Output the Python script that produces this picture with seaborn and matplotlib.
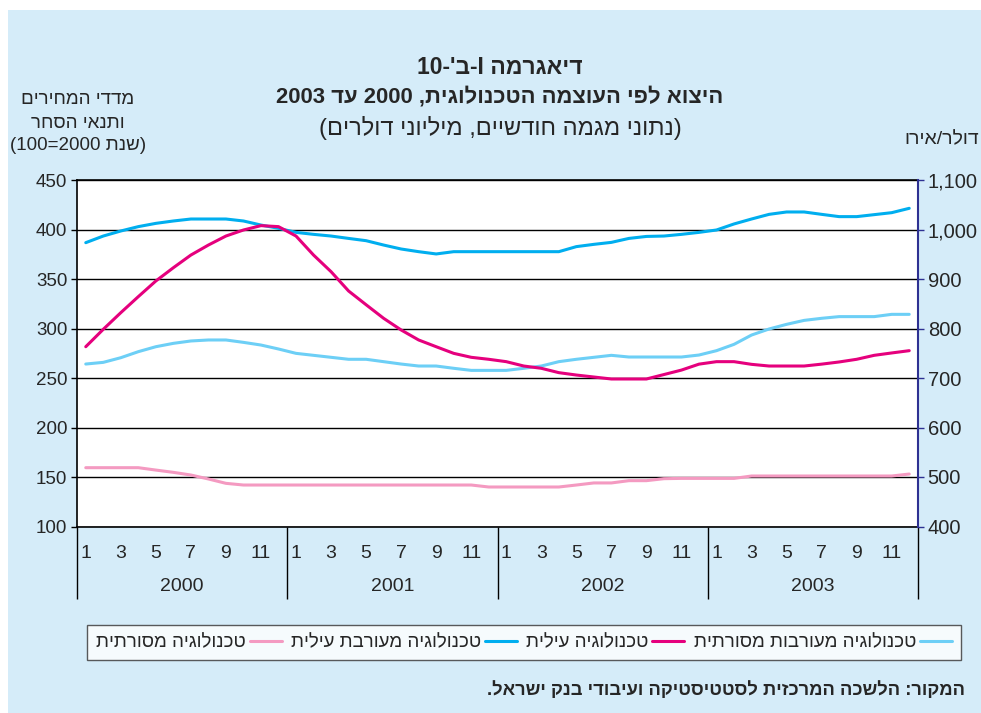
# -*- coding: utf-8 -*-
# Diagram I-b-10: exports by technology intensity, 2000-2003 (monthly trend data)
import re
import numpy as np
import pandas as pd
import seaborn as sns
import matplotlib.pyplot as plt
from matplotlib.patches import Rectangle
from matplotlib.ticker import FuncFormatter

# Data (left axis units)
years = ["2000", "2001", "2002", "2003"]
month_labels = ["1", "3", "5", "7", "9", "11"]

high_tech = [386.7, 393.4, 398.5, 402.9, 406.2, 408.6, 410.6, 410.6, 410.6, 408.6, 404.5, 401.2,
             397.1, 395.1, 393.4, 391.0, 388.7, 384.3, 380.3, 377.6, 375.3, 377.6, 377.6, 377.6,
             377.6, 377.6, 377.6, 377.6, 382.7, 385.0, 387.0, 391.0, 393.0, 393.4, 395.1, 397.1,
             399.5, 405.6, 410.6, 415.3, 417.7, 417.7, 415.3, 413.0, 413.0, 415.0, 417.0, 421.4]

magenta_series = [281.6, 299.2, 316.0, 332.2, 348.0, 361.4, 374.2, 384.3, 393.4, 399.5, 403.9, 402.9,
                  393.4, 374.2, 357.4, 337.9, 324.0, 310.3, 298.5, 288.4, 281.6, 274.9, 270.9, 268.9,
                  266.5, 262.1, 259.8, 255.4, 253.0, 251.0, 249.0, 249.0, 249.0, 253.5, 258.0, 264.0,
                  266.5, 266.5, 263.8, 262.1, 262.1, 262.1, 264.0, 266.2, 268.9, 272.9, 275.3, 277.6]

light_series = [264.1, 265.8, 270.5, 276.6, 281.6, 285.0, 287.4, 288.4, 288.4, 286.0, 283.3, 279.3,
                274.9, 272.9, 270.9, 268.9, 268.9, 266.5, 264.1, 262.1, 262.1, 259.8, 257.7, 257.7,
                257.7, 259.8, 262.1, 266.5, 268.9, 270.9, 272.9, 271.2, 271.2, 271.2, 271.2, 273.2,
                277.6, 284.0, 293.4, 299.5, 304.2, 308.2, 310.3, 312.0, 312.0, 312.0, 314.3, 314.3]

pink_series = [159.4, 159.4, 159.4, 159.4, 157.0, 154.7, 152.0, 148.0, 143.6, 141.9, 141.9, 141.9,
               141.9, 141.9, 141.9, 141.9, 141.9, 141.9, 141.9, 141.9, 141.9, 141.9, 141.9, 139.9,
               139.9, 139.9, 139.9, 139.9, 141.9, 144.0, 144.0, 146.3, 146.3, 148.3, 148.6, 148.6,
               148.6, 148.6, 151.0, 151.0, 151.0, 151.0, 151.0, 151.0, 151.0, 151.0, 151.0, 153.0]


def heb(s):
    # matplotlib has no bidi: reverse for display, keep numbers/latin runs in order
    r = s[::-1]
    r = re.sub(r"[0-9A-Za-z]+(?:[.,][0-9A-Za-z]+)*", lambda m: m.group(0)[::-1], r)
    return r.translate(str.maketrans("()", ")("))


BG = "#D5ECF9"
C_PINK = "#F49AC1"
C_CYAN = "#00AEEF"
C_MAGENTA = "#E5007D"
C_LIGHT = "#6DCFF6"
NAVY = "#2E3192"

sns.set_style("white")
plt.rcParams["font.family"] = ["Liberation Sans", "DejaVu Sans"]

fig = plt.figure(figsize=(9.81, 7.13), dpi=100, facecolor="white")
fig.patches.append(Rectangle((8 / 981, 0), 1 - 8 / 981, 1 - 10 / 713, transform=fig.transFigure,
                             facecolor=BG, edgecolor="none", zorder=-10))

ax = fig.add_axes([77 / 981, 1 - 526.5 / 713, 841 / 981, 346.5 / 713])
ax.set_facecolor("white")

months = np.arange(len(high_tech))
df = pd.DataFrame({"month": months, "pink": pink_series, "cyan": high_tech,
                   "magenta": magenta_series, "light": light_series})

labels = {
    "pink": heb("טכנולוגיה מסורתית"),
    "cyan": heb("טכנולוגיה מעורבת עילית"),
    "magenta": heb("טכנולוגיה עילית"),
    "light": heb("טכנולוגיה מעורבות מסורתית"),
}
colors = {"pink": C_PINK, "cyan": C_CYAN, "magenta": C_MAGENTA, "light": C_LIGHT}

for key in ["pink", "light", "cyan", "magenta"]:
    sns.lineplot(data=df, x="month", y=key, color=colors[key], lw=2.2, ax=ax, label=labels[key])

handles, labs = ax.get_legend_handles_labels()
ax.get_legend().remove()

# y axis (left)
ax.set_ylim(100, 450)
ax.set_yticks(np.arange(100, 451, 50))
ax.yaxis.grid(True, color="black", lw=1)
ax.set_axisbelow(True)
ax.tick_params(axis="y", which="major", direction="out", length=4, width=1, color="black",
               labelsize=13.5, pad=3, left=True)
ax.set_ylabel("")
ax.set_xlabel("")

# x axis: month labels + year separators
ax.set_xlim(-0.5, len(months) - 0.5)
pos, lab = [], []
for y in range(len(years)):
    for m in month_labels:
        pos.append(y * 12 + int(m) - 1)
        lab.append(m)
ax.set_xticks(pos)
ax.set_xticklabels(lab)
ax.tick_params(axis="x", which="major", length=0, labelsize=14, pad=13)
ax.set_xticks(np.arange(-0.5, len(months), 12), minor=True)
ax.tick_params(axis="x", which="minor", length=52, width=1, color="black", direction="out", bottom=True)
for y, yr in enumerate(years):
    ax.text(y * 12 + 5.5, -0.172, yr, transform=ax.get_xaxis_transform(), ha="center", va="center",
            fontsize=14)

for side in ["left", "bottom", "top"]:
    ax.spines[side].set_color("black")
    ax.spines[side].set_linewidth(1.2)
ax.spines["right"].set_visible(False)

# right axis
ax2 = ax.twinx()
ax2.set_ylim(400, 1100)
ax2.set_yticks(np.arange(400, 1101, 100))
ax2.yaxis.set_major_formatter(FuncFormatter(lambda v, p: f"{v:,.0f}"))
ax2.tick_params(axis="y", direction="out", length=4, width=1, color=NAVY, labelsize=14.5, pad=3, right=True)
for side in ["left", "bottom", "top"]:
    ax2.spines[side].set_visible(False)
ax2.spines["right"].set_color(NAVY)
ax2.spines["right"].set_linewidth(1.5)

# titles
fig.text(500 / 981, 1 - 67 / 713, heb("דיאגרמה I-ב'-10"), ha="center", va="center", fontsize=16.5,
         fontweight="bold")
fig.text(500 / 981, 1 - 97 / 713, heb("היצוא לפי העוצמה הטכנולוגית, 2000 עד 2003"), ha="center",
         va="center", fontsize=15.8, fontweight="bold")
fig.text(500 / 981, 1 - 128 / 713, heb("(נתוני מגמה חודשיים, מיליוני דולרים)"), ha="center",
         va="center", fontsize=17)

# axis captions
for txt, yy in [("מדדי המחירים", 100), ("ותנאי הסחר", 123), ("(שנת 2000=100)", 145)]:
    fig.text(78 / 981, 1 - yy / 713, heb(txt), ha="center", va="center", fontsize=13.5)
fig.text(979 / 981, 1 - 140 / 713, heb("דולר/אירו"), ha="right", va="center", fontsize=14)

# legend (handles on the right of the text, rtl)
order = [labels["pink"], labels["cyan"], labels["magenta"], labels["light"]]
hmap = dict(zip(labs, handles))
leg = fig.legend([hmap[l] for l in order], order, loc="center", bbox_to_anchor=(524 / 981, 1 - 642.5 / 713),
                 ncol=4, markerfirst=False, frameon=True, fancybox=False, fontsize=13.5,
                 handlelength=1.7, handletextpad=0.2, columnspacing=0.5, borderpad=0.5)
leg.get_frame().set_edgecolor("#333333")
leg.get_frame().set_linewidth(1)

# source
fig.text(965 / 981, 1 - 690 / 713, heb("המקור: הלשכה המרכזית לסטטיסטיקה ועיבודי בנק ישראל."),
         ha="right", va="center", fontsize=13.2, fontweight="bold")

fig.savefig("out.png", dpi=100, facecolor=fig.get_facecolor())
